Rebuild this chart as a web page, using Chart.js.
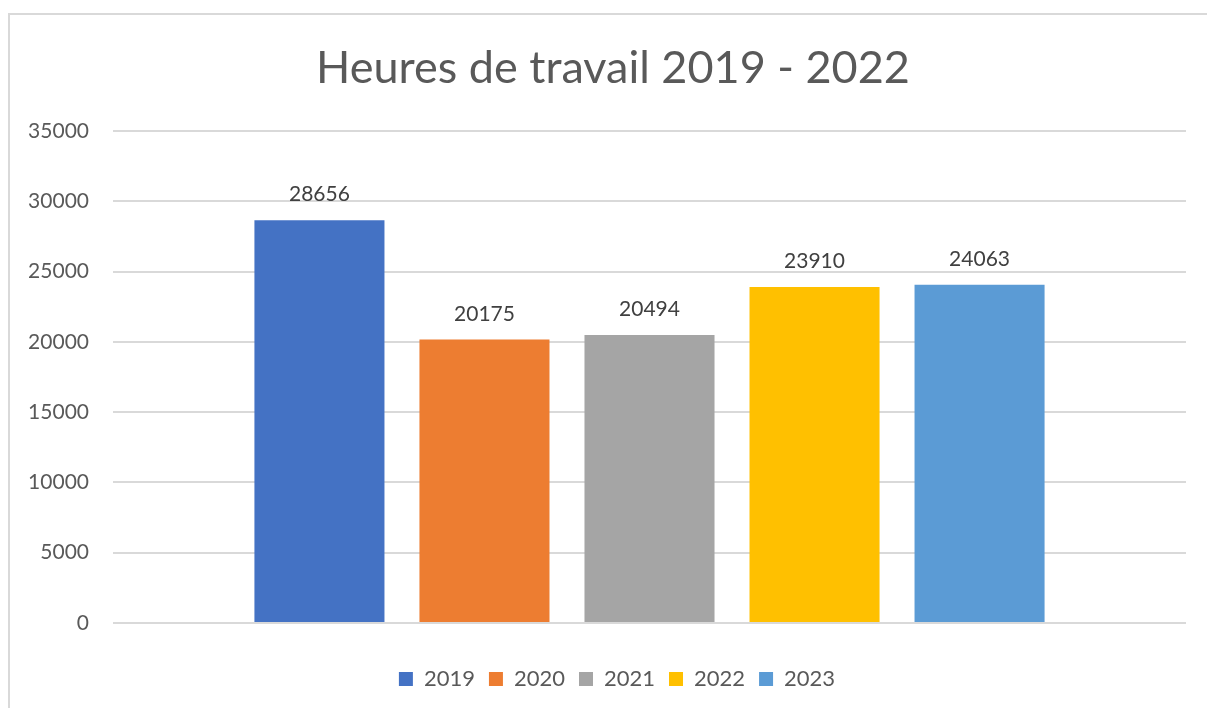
<!DOCTYPE html>
<html>
<head>
<meta charset="utf-8">
<script src="https://cdn.jsdelivr.net/npm/chart.js@4.4.0/dist/chart.umd.min.js"></script>
<style>
    html, body { margin: 0; padding: 0; background: #fff; }
    #wrap { position: relative; width: 1207px; height: 708px; overflow: hidden; }
    #frame { position: absolute; left: 8px; top: 13px; width: 1300px; height: 800px;
             border-left: 2px solid #d9d9d9; border-top: 2px solid #d9d9d9; }
    canvas { position: absolute; left: 0; top: 0; }
</style>
</head>
<body>
<div id="wrap">
    <div id="frame"></div>
    <canvas id="chart" width="1207" height="708"></canvas>
</div>
<script>
// data
const years = ['2019', '2020', '2021', '2022', '2023'];
const hours = [28656, 20175, 20494, 23910, 24063];
const barColors = ['#4472c4', '#ed7d31', '#a5a5a5', '#ffc000', '#5b9bd5'];
const yTicks = [0, 5000, 10000, 15000, 20000, 25000, 30000, 35000];
const titleText = 'Heures de travail 2019 - 2022';

const FONT = 'Lato, "Open Sans", sans-serif';

// title centred over the chart frame (not the canvas), like Excel
const frameTitle = {
    id: 'frameTitle',
    afterLayout(chart) {
        // legend is centred on the frame too
        chart.legend.left += 24;
        chart.legend.right += 24;
    },
    afterDraw(chart) {
        const ctx = chart.ctx;
        ctx.save();
        ctx.font = '45px ' + FONT;
        ctx.fillStyle = '#595959';
        ctx.textAlign = 'center';
        ctx.textBaseline = 'alphabetic';
        ctx.fillText(titleText, 613, 83);
        ctx.restore();
    }
};

// value labels above each bar
const valueLabels = {
    id: 'valueLabels',
    afterDatasetsDraw(chart) {
        const ctx = chart.ctx;
        ctx.save();
        ctx.font = '21px ' + FONT;
        ctx.fillStyle = '#404040';
        ctx.textAlign = 'center';
        ctx.textBaseline = 'bottom';
        chart.data.datasets.forEach((ds, i) => {
            const bar = chart.getDatasetMeta(i).data[0];
            ctx.fillText(String(ds.data[0]), bar.x, bar.y - 15);
        });
        ctx.restore();
    }
};

new Chart(document.getElementById('chart'), {
    type: 'bar',
    data: {
        labels: [''],
        datasets: years.map((y, i) => ({
            label: y,
            data: [hours[i]],
            backgroundColor: barColors[i],
            categoryPercentage: 0.769,
            barPercentage: 0.788
        }))
    },
    options: {
        responsive: false,
        animation: false,
        layout: { padding: { left: 0, right: 21, top: 131, bottom: 8 } },
        plugins: {
            title: { display: false },
            legend: {
                position: 'bottom',
                labels: {
                    color: '#595959',
                    font: { family: FONT, size: 22 },
                    boxWidth: 14,
                    boxHeight: 14,
                    padding: 14
                }
            },
            tooltip: { enabled: false }
        },
        scales: {
            x: {
                grid: { display: false },
                border: { display: false },
                ticks: { display: false },
                afterFit(scale) { scale.height = 31; }
            },
            y: {
                min: 0,
                max: 35000,
                afterBuildTicks(scale) { scale.ticks = yTicks.map(v => ({ value: v })); },
                ticks: {
                    color: '#595959',
                    font: { family: FONT, size: 21 },
                    padding: 24,
                    callback: v => String(v)
                },
                grid: { color: '#d9d9d9', lineWidth: 2, drawTicks: false },
                border: { display: false },
                afterFit(scale) { scale.width = 113; }
            }
        }
    },
    plugins: [valueLabels, frameTitle]
});
</script>
</body>
</html>
